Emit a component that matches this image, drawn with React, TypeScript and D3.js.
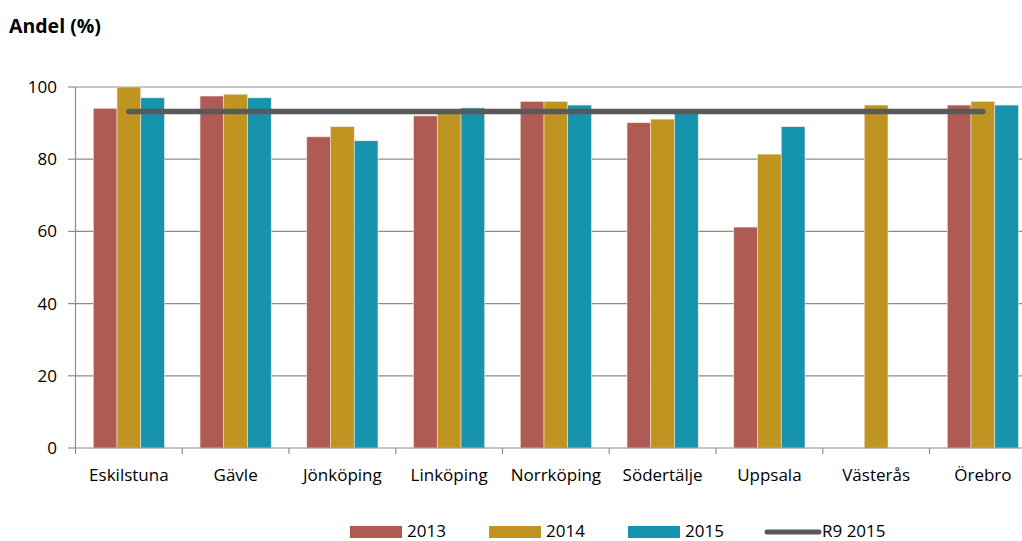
import React from "react";
import * as d3 from "d3";

const categories = ["Eskilstuna", "Gävle", "Jönköping", "Linköping", "Norrköping", "Södertälje", "Uppsala", "Västerås", "Örebro"];
const seriesNames = ["2013", "2014", "2015"];
const values2013: (number | null)[] = [94.1, 97.5, 86.2, 92.0, 96.0, 90.1, 61.2, null, 95.0];
const values2014: (number | null)[] = [100, 98.0, 89.0, 93.0, 96.0, 91.1, 81.4, 95.0, 96.0];
const values2015: (number | null)[] = [97.0, 97.0, 85.1, 94.2, 95.0, 93.0, 89.0, null, 95.0];
const r9Value = 93.2;
const lineName = "R9 2015";
const yTicks = [0, 20, 40, 60, 80, 100];
const colors = ["#B05A54", "#BF9420", "#1694AE"];

const FONT = "'Open Sans', 'Noto Sans', sans-serif";

export default function App() {
  const W = 1022, H = 541;
  const left = 75.5, bandW = 106.75;
  const x = d3.scaleBand<string>().domain(categories).range([left, left + bandW * categories.length]).paddingInner(0.333).paddingOuter(0.1665);
  const y = d3.scaleLinear().domain([0, 100]).range([448, 87]);
  const series = [values2013, values2014, values2015];
  const barW = x.bandwidth() / 3;
  const center = (c: string) => (x(c) as number) + x.bandwidth() / 2;
  const lineGen = d3.line<string>().x((c) => center(c)).y(() => y(r9Value));
  const boundaries = d3.range(categories.length + 1).map((i) => left + i * bandW);

  return (
    <svg width={W} height={H} style={{ position: "absolute", left: 0, top: 0, fontFamily: FONT }}>
      <text x={9} y={33} fontSize={19.5} fontWeight="bold" fill="#000">Andel (%)</text>
      {yTicks.map((t) => (
        <g key={t}>
          {t > 0 && <line x1={left} x2={W} y1={y(t)} y2={y(t)} stroke="#8c8c8c" strokeWidth={1.2} />}
          <line x1={68} x2={left} y1={y(t)} y2={y(t)} stroke="#8c8c8c" strokeWidth={1.2} />
          <text x={57} y={y(t)} dy="0.35em" textAnchor="end" fontSize={17} fill="#000">{t}</text>
        </g>
      ))}
      {series.map((vals, si) =>
        categories.map((c, ci) => {
          const v = vals[ci];
          if (v == null) return null;
          return (
            <rect key={si + "-" + c} x={(x(c) as number) + si * barW} y={y(v)} width={barW} height={y(0) - y(v)}
              fill={colors[si]} stroke="#f2e6d8" strokeWidth={0.6} />
          );
        })
      )}
      <line x1={left} x2={left} y1={y(100)} y2={y(0)} stroke="#8c8c8c" strokeWidth={1.2} />
      <line x1={left} x2={W} y1={y(0)} y2={y(0)} stroke="#8c8c8c" strokeWidth={1.2} />
      {boundaries.map((b, i) => (
        <line key={i} x1={b} x2={b} y1={y(0)} y2={y(0) + 6} stroke="#8c8c8c" strokeWidth={1.2} />
      ))}
      <path d={lineGen([categories[0], categories[categories.length - 1]]) || ""} stroke="#595959" strokeWidth={5.5} strokeLinecap="round" fill="none" />
      {categories.map((c) => (
        <text key={c} x={center(c)} y={481} textAnchor="middle" fontSize={17} fill="#000">{c}</text>
      ))}
      {seriesNames.map((n, i) => (
        <g key={n}>
          <rect x={350 + i * 139} y={526} width={52} height={12} fill={colors[i]} />
          <text x={407 + i * 139} y={536.5} fontSize={17} fill="#000">{n}</text>
        </g>
      ))}
      <line x1={767} x2={819} y1={532} y2={532} stroke="#595959" strokeWidth={5} strokeLinecap="round" />
      <text x={822} y={536.5} fontSize={17} fill="#000">{lineName}</text>
    </svg>
  );
}
